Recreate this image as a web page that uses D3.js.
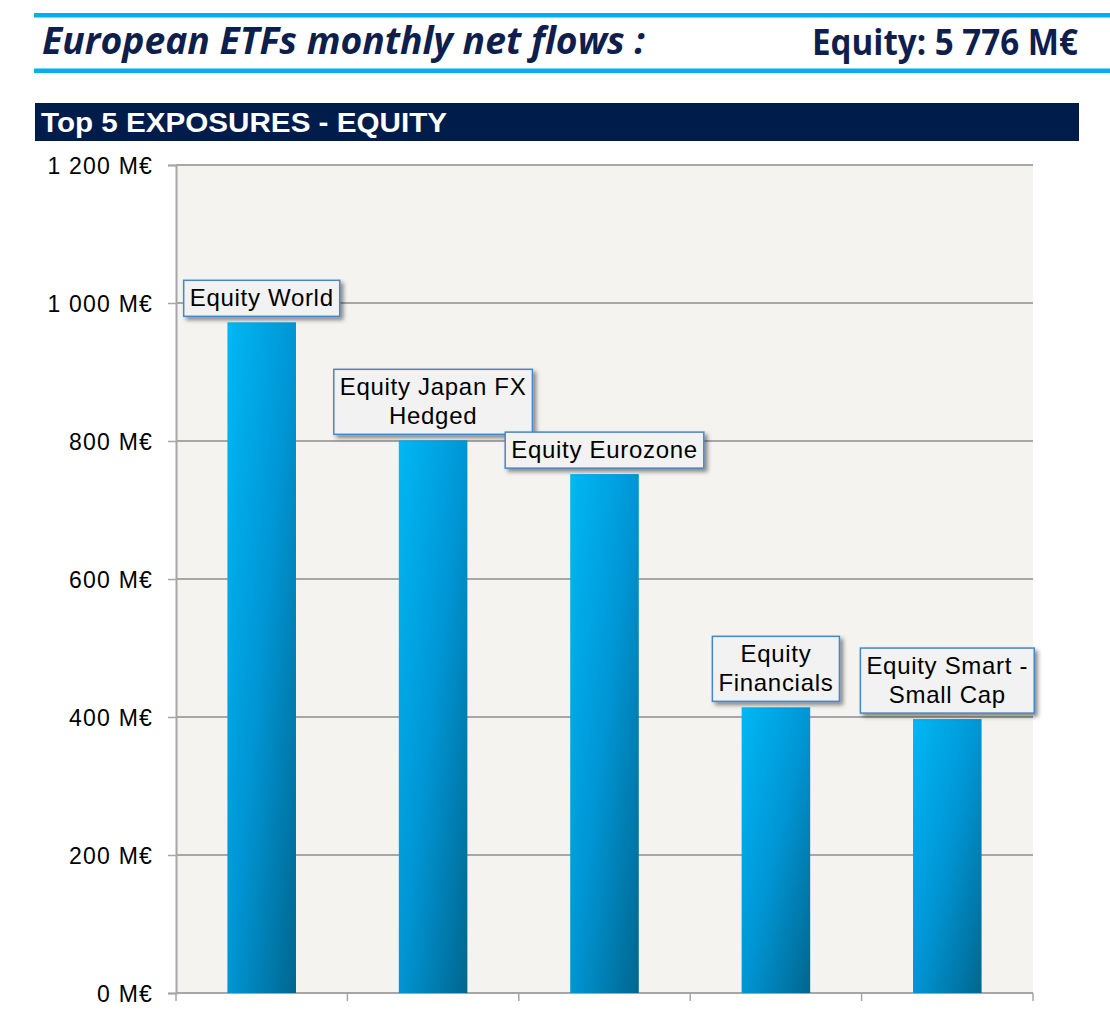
<!DOCTYPE html>
<html>
<head>
<meta charset="utf-8">
<script src="https://cdn.jsdelivr.net/npm/d3@7"></script>
<style>
  html, body { margin: 0; padding: 0; background: #ffffff; }
  svg { display: block; }
</style>
</head>
<body>
<svg id="chart" width="1110" height="1026"></svg>
<script>
// ---- data ----
const categories = ["Equity World", "Equity Japan FX Hedged", "Equity Eurozone", "Equity Financials", "Equity Smart - Small Cap"];
const labelLines = [["Equity World"], ["Equity Japan FX", "Hedged"], ["Equity Eurozone"], ["Equity", "Financials"], ["Equity Smart -", "Small Cap"]];
const flows = [972, 801, 752, 414, 397];
const yTickValues = [0, 200, 400, 600, 800, 1000, 1200];
const yTickLabels = ["0 M€", "200 M€", "400 M€", "600 M€", "800 M€", "1 000 M€", "1 200 M€"];
const headerTitle = "European ETFs monthly net flows :";
const headerTotal = "Equity: 5 776 M€";
const sectionTitle = "Top 5 EXPOSURES - EQUITY";

// ---- layout ----
const svg = d3.select("#chart");
const plot = { left: 176, right: 1033, top: 165, bottom: 993 };
const navy = "#0e1f4d";
const cyan = "#00b0ec";

const defs = svg.append("defs");
const grad = defs.append("linearGradient").attr("id", "barGrad")
  .attr("x1", "0").attr("y1", "0").attr("x2", "1").attr("y2", "1");
grad.append("stop").attr("offset", "0%").attr("stop-color", "#00b8f4");
grad.append("stop").attr("offset", "50%").attr("stop-color", "#0095d4");
grad.append("stop").attr("offset", "100%").attr("stop-color", "#00668f");

const shadow = defs.append("filter").attr("id", "shadow")
  .attr("x", "-20%").attr("y", "-20%").attr("width", "150%").attr("height", "160%");
shadow.append("feDropShadow").attr("dx", 3).attr("dy", 3).attr("stdDeviation", 2)
  .attr("flood-color", "#000").attr("flood-opacity", 0.45);

// ---- header ----
svg.append("rect").attr("x", 34).attr("y", 13).attr("width", 1110 - 34).attr("height", 4.5).attr("fill", cyan);
svg.append("rect").attr("x", 34).attr("y", 68.5).attr("width", 1110 - 34).attr("height", 4.5).attr("fill", cyan);

svg.append("text").text(headerTitle)
  .attr("x", 42).attr("y", 54)
  .attr("font-family", "'Open Sans', 'DejaVu Sans', sans-serif")
  .attr("font-weight", 700).attr("font-style", "italic")
  .attr("font-size", 38).attr("fill", navy)
  .attr("textLength", 603).attr("lengthAdjust", "spacingAndGlyphs");

svg.append("text").text(headerTotal)
  .attr("x", 812).attr("y", 55)
  .attr("font-family", "'Open Sans', 'DejaVu Sans', sans-serif")
  .attr("font-weight", 700)
  .attr("font-size", 36).attr("fill", navy)
  .attr("textLength", 266).attr("lengthAdjust", "spacingAndGlyphs");

// ---- section bar ----
svg.append("rect").attr("x", 35).attr("y", 103).attr("width", 1079 - 35).attr("height", 38).attr("fill", "#001c4b");
svg.append("text").text(sectionTitle)
  .attr("x", 41).attr("y", 132)
  .attr("font-family", "'Liberation Sans', Arial, sans-serif")
  .attr("font-weight", 700).attr("font-size", 27).attr("fill", "#ffffff")
  .attr("textLength", 406).attr("lengthAdjust", "spacingAndGlyphs");

// ---- scales ----
const x = d3.scaleBand().domain(categories).range([plot.left, plot.right])
  .paddingInner(0.6).paddingOuter(0.3);
const y = d3.scaleLinear().domain([0, 1200]).range([plot.bottom, plot.top]);

// plot background
svg.append("rect").attr("x", plot.left).attr("y", plot.top)
  .attr("width", plot.right - plot.left).attr("height", plot.bottom - plot.top)
  .attr("fill", "#f4f3ef");

// gridlines
svg.append("g").selectAll("line").data(yTickValues.filter(v => v > 0)).join("line")
  .attr("x1", plot.left).attr("x2", plot.right)
  .attr("y1", d => y(d)).attr("y2", d => y(d))
  .attr("stroke", "#8c8c8c").attr("stroke-width", 1.3);

// y axis
const yAxis = d3.axisLeft(y).tickValues(yTickValues)
  .tickFormat((d, i) => yTickLabels[i]).tickSize(8).tickPadding(15);
const gy = svg.append("g").attr("transform", `translate(${plot.left},0)`).call(yAxis);
gy.select(".domain").attr("stroke", "#a6a6a6").attr("stroke-width", 2);
gy.selectAll(".tick line").attr("stroke", "#a6a6a6").attr("stroke-width", 1.5);
gy.selectAll(".tick text")
  .attr("font-family", "'Liberation Sans', Arial, sans-serif")
  .attr("font-size", 23).attr("fill", "#000").attr("letter-spacing", 1.2)
  .attr("dy", "0.36em");

// x axis baseline + boundary ticks
const gx = svg.append("g");
gx.append("line").attr("x1", plot.left).attr("x2", plot.right)
  .attr("y1", y(0)).attr("y2", y(0)).attr("stroke", "#a6a6a6").attr("stroke-width", 2);
const bounds = [x(categories[0]) - x.step() * x.paddingOuter()]
  .concat(categories.map(c => x(c) + x.bandwidth() + x.step() * x.paddingInner() / 2));
gx.selectAll("line.tk").data(bounds).join("line").attr("class", "tk")
  .attr("x1", d => d).attr("x2", d => d)
  .attr("y1", y(0)).attr("y2", y(0) + 8)
  .attr("stroke", "#a6a6a6").attr("stroke-width", 1.5);

// bars
svg.append("g").selectAll("rect").data(flows).join("rect")
  .attr("x", (d, i) => x(categories[i]))
  .attr("y", d => y(d))
  .attr("width", x.bandwidth())
  .attr("height", d => y(0) - y(d))
  .attr("fill", "url(#barGrad)");

// data labels
const lineH = 29;
const labelG = svg.append("g");
flows.forEach((v, i) => {
  const cx = x(categories[i]) + x.bandwidth() / 2;
  const lines = labelLines[i];
  const g = labelG.append("g");
  const rect = g.append("rect");
  const txt = g.append("text")
    .attr("font-family", "'Liberation Sans', Arial, sans-serif")
    .attr("font-size", 24).attr("letter-spacing", 0.7).attr("fill", "#000")
    .attr("text-anchor", "middle");
  const boxH = lines.length * lineH + 7;
  const boxBottom = y(v) - 6;
  const boxTop = boxBottom - boxH;
  lines.forEach((ln, k) => {
    txt.append("tspan").attr("x", cx).attr("y", boxTop + 26 + k * lineH).text(ln);
  });
  const w = txt.node().getBBox().width + 12;
  rect.attr("x", cx - w / 2).attr("y", boxTop).attr("width", w).attr("height", boxH)
    .attr("fill", "#f2f2f2").attr("stroke", "#4a86c4").attr("stroke-width", 1.5)
    .attr("filter", "url(#shadow)");
});
</script>
</body>
</html>
